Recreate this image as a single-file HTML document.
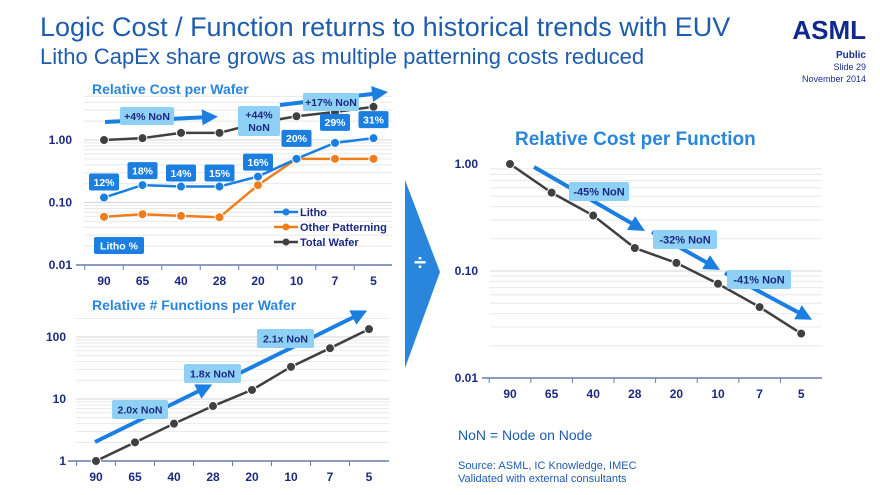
<!DOCTYPE html>
<html><head><meta charset="utf-8"><style>
body{margin:0;width:880px;height:495px;overflow:hidden;background:#fff;font-family:"Liberation Sans",sans-serif}
svg{display:block}
</style></head><body>
<svg id="s" width="880" height="495" xmlns="http://www.w3.org/2000/svg">
<defs>
<marker id="ah" markerWidth="4" markerHeight="4" refX="2" refY="2" orient="auto" markerUnits="strokeWidth"><path d="M0,0 L4,2 L0,4 z" fill="#1a7fe0"/></marker>
</defs>
<text x="40" y="36" font-size="27" fill="#1e5cae">Logic Cost / Function returns to historical trends with EUV</text>
<text x="40" y="64" font-size="22" fill="#1e5cae">Litho CapEx share grows as multiple patterning costs reduced</text>
<text x="866" y="39" font-size="26" font-weight="bold" fill="#0f2a8c" text-anchor="end">ASML</text>
<text x="866" y="58" font-size="10" font-weight="bold" fill="#1b2f8f" text-anchor="end">Public</text>
<text x="866" y="70" font-size="9" fill="#1b2f8f" text-anchor="end">Slide 29</text>
<text x="866" y="82" font-size="9" fill="#1b2f8f" text-anchor="end">November 2014</text>
<g id="g"></g>
<polygon points="405,180 440,272 405,368" fill="#2a86dc"/>
<text x="420" y="270" font-size="22" font-weight="bold" fill="#fff" text-anchor="middle">÷</text>
<text x="458" y="440" font-size="14" fill="#1e5cae">NoN = Node on Node</text>
<text x="458" y="469" font-size="11" fill="#1e5cae">Source: ASML, IC Knowledge, IMEC</text>
<text x="458" y="482" font-size="11" fill="#1e5cae">Validated with external consultants</text>
</svg>
<script>
const nodes=["90","65","40","28","20","10","7","5"];
const lithoCost=[0.12,0.19,0.18,0.18,0.26,0.5,0.9,1.07];
const otherCost=[0.059,0.065,0.061,0.058,0.19,0.5,0.5,0.5];
const totalCost=[1.0,1.07,1.3,1.3,1.87,2.4,2.8,3.4];
const lithoPct=["12%","18%","14%","15%","16%","20%","29%","31%"];
const funcs=[1,2,4,7.7,14,33,66,134];
const costFn=[1.0,0.54,0.33,0.164,0.119,0.076,0.046,0.026];
const NS="http://www.w3.org/2000/svg",G=document.getElementById('g');
function el(t,a,txt){const e=document.createElementNS(NS,t);for(const k in a)e.setAttribute(k,a[k]);if(txt!=null)e.textContent=txt;G.appendChild(e);return e;}
function chart(c){
 const xs=i=>c.x0+i*c.dx, ys=v=>c.yb-(Math.log10(v)-c.lmin)*c.dec;
 for(let d=c.lmin;d<c.lmax;d++)for(let m=1;m<10;m++){const v=m*Math.pow(10,d);if(v>c.gmax)continue;const y=ys(v);
  const l=el('line',{x1:c.gx0,x2:c.gx1,y1:y,y2:y,stroke:m==1?'#d4d4d4':'#e8e8e8','stroke-width':1});
  }
 const ax=el('line',{x1:c.gx0-8,x2:c.gx1,y1:c.yb,y2:c.yb,stroke:'#6a7aa8','stroke-width':1.5});
 
 nodes.forEach((n,i)=>{const t=el('text',{x:xs(i),y:c.yb+20,'font-size':12,'font-weight':'bold',fill:'#1b2a80','text-anchor':'middle'},n);
  
  const tk=el('line',{x1:xs(i)-c.dx/2,x2:xs(i)-c.dx/2,y1:c.yb,y2:c.yb+5,stroke:'#6a7aa8'});
  });
 c.yl.forEach(v=>{const t=el('text',{x:c.lx,y:ys(v)+4,'font-size':12,'font-weight':'bold',fill:'#1b2a80','text-anchor':'end'},c.fmt(v));
  });
 return {xs,ys};
}
function series(a,data,col,name){
 const p=el('polyline',{points:data.map((v,i)=>a.xs(i)+','+a.ys(v)).join(' '),fill:'none',stroke:col,'stroke-width':2.5});
 
 data.forEach((v,i)=>{const d=el('circle',{cx:a.xs(i),cy:a.ys(v),r:4.5,fill:col,stroke:'#fff','stroke-width':1});
  });
}
function label(x,y,w,h,txt,bg,fg,fs,name){
 const r=el('rect',{x:x,y:y,width:w,height:h,rx:2,fill:bg});
 
 const lines=txt.split('\n');lines.forEach((l,k)=>{const t=el('text',{x:x+w/2,y:y+h/2+fs*0.36+(k-(lines.length-1)/2)*fs*1.2,'font-size':fs,'font-weight':'bold',fill:fg,'text-anchor':'middle'},l);
  });
}
function arrow(x1,y1,x2,y2,name){const a=el('line',{x1,y1,x2,y2,stroke:'#1a7fe0','stroke-width':4,'marker-end':'url(#ah)'});
 }
// chart 1
const a1=chart({x0:104,dx:38.5,yb:265,dec:62.5,lmin:-2,lmax:1,gmax:5,gx0:84,gx1:392,lx:72,yl:[1,0.1,0.01],fmt:v=>v.toFixed(2)});
let t=el('text',{x:92,y:94,'font-size':14,'font-weight':'bold',fill:'#2a86dc'},'Relative  Cost per Wafer');
arrow(105,122,210,117,'trend-arrow-1');arrow(280,105,380,93,'trend-arrow-2');
series(a1,totalCost,'#404040','total-wafer');series(a1,otherCost,'#f07d1a','other-patterning');series(a1,lithoCost,'#1a7fe0','litho');
label(120,107,54,18,'+4% NoN','#8fd0f5','#1b2a80',10.5,'label-4pct');
label(238,106,42,30,'+44%\nNoN','#8fd0f5','#1b2a80',10.5,'label-44pct');
label(303,93,56,18,'+17% NoN','#8fd0f5','#1b2a80',10.5,'label-17pct');
lithoPct.forEach((p,i)=>{const x=a1.xs(i),y=a1.ys(lithoCost[i]);const off=[-15,-14,-13,-13,-14,-20,-20,-18][i];
 label(x-15,y+off-9,30,17,p,'#1a7fe0','#fff',10.5,'litho-share-label');});
label(94,237,50,17,'Litho %','#1a7fe0','#fff',10.5,'litho-pct-legend');
[['Litho','#1a7fe0',212],['Other Patterning','#f07d1a',227],['Total Wafer','#404040',242]].forEach(([n,c,y])=>{
 const l=el('line',{x1:274,x2:298,y1:y,y2:y,stroke:c,'stroke-width':2.5});
 const d=el('circle',{cx:286,cy:y,r:3.5,fill:c});
 const tt=el('text',{x:300,y:y+4,'font-size':11,'font-weight':'bold',fill:'#1b2a80'},n);});
// chart 2
const a2=chart({x0:96,dx:39,yb:461,dec:62,lmin:0,lmax:3,gmax:200,gx0:76,gx1:389,lx:66,yl:[100,10,1],fmt:v=>String(v)});
t=el('text',{x:92,y:310,'font-size':14,'font-weight':'bold',fill:'#2a86dc'},'Relative  # Functions per Wafer');
arrow(95,442,205,388,'func-arrow-1');arrow(240,373,360,314,'func-arrow-2');
series(a2,funcs,'#404040','functions');
label(112,400,56,19,'2.0x NoN','#8fd0f5','#1b2a80',10.5,'label-2.0x');
label(184,364,57,19,'1.8x NoN','#8fd0f5','#1b2a80',10.5,'label-1.8x');
label(257,329,57,19,'2.1x NoN','#8fd0f5','#1b2a80',10.5,'label-2.1x');
// chart 3
t=el('text',{x:515,y:145,'font-size':19,'font-weight':'bold',fill:'#2a86dc'},'Relative Cost per Function');
const a3=chart({x0:510,dx:41.6,yb:378,dec:107,lmin:-2,lmax:0,gmax:1,gx0:490,gx1:822,lx:478,yl:[1,0.1,0.01],fmt:v=>v.toFixed(2)});
arrow(534,167,638,227,'cpf-arrow-1');arrow(652,232,713,266,'cpf-arrow-2');arrow(725,273,805,316,'cpf-arrow-3');
series(a3,costFn,'#404040','cost-per-function');
label(569,182,60,19,'-45% NoN','#8fd0f5','#1b2a80',11,'label-45pct');
label(653,230,64,19,'-32% NoN','#8fd0f5','#1b2a80',11,'label-32pct');
label(727,270,64,19,'-41% NoN','#8fd0f5','#1b2a80',11,'label-41pct');
</script>
</body></html>
